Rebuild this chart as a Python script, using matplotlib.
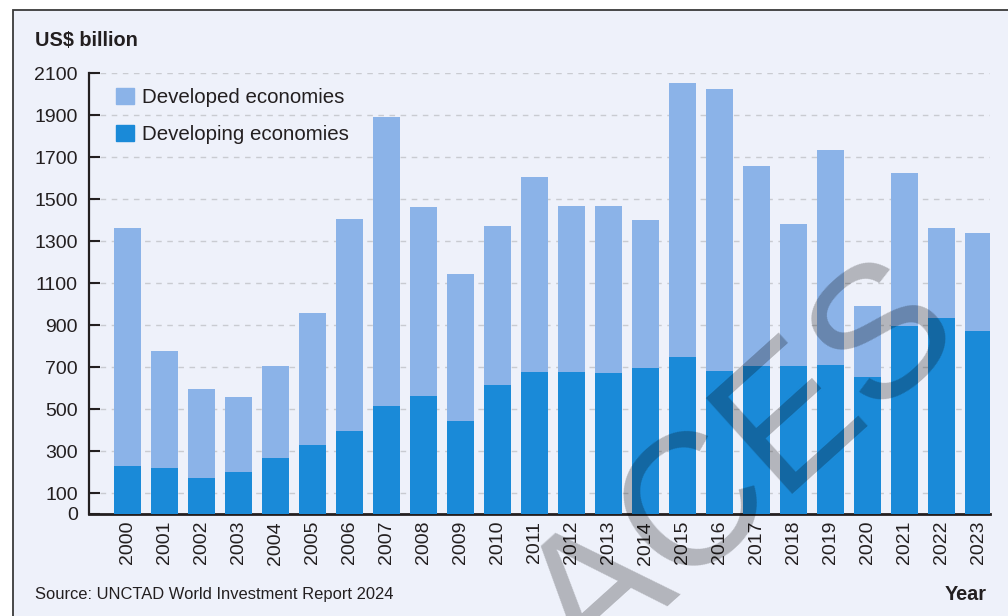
import numpy as np
import matplotlib
matplotlib.use("Agg")
import matplotlib.pyplot as plt
from matplotlib.patches import Rectangle, Patch

plt.rcParams['font.family'] = ['Liberation Sans', 'DejaVu Sans']

years = [str(y) for y in range(2000, 2024)]
total = [1362, 776, 595, 557, 705, 957, 1405, 1890, 1460, 1143,
         1371, 1605, 1465, 1465, 1400, 2052, 2024, 1657, 1381, 1733,
         990, 1624, 1362, 1338]
developing = [229, 219, 171, 200, 267, 329, 395, 514, 563, 443,
              614, 676, 676, 671, 695, 748, 681, 705, 705, 710,
              652, 895, 933, 871]
developed = [t - d for t, d in zip(total, developing)]
yticks = [0, 100, 300, 500, 700, 900, 1100, 1300, 1500, 1700, 1900, 2100]

c_dev = '#8bb3e8'
c_ing = '#1a8ad8'
ink = '#231f20'

fig = plt.figure(figsize=(10.08, 6.16), dpi=100)
fig.patch.set_facecolor('white')

# framed panel background
frame = Rectangle((13 / 1008, -0.05), 1.05, (616 - 10) / 616 + 0.05,
                  transform=fig.transFigure, facecolor='#eef1fa',
                  edgecolor='#3a3a3a', linewidth=1.3, zorder=-5)
fig.patches.append(frame)

ax = fig.add_axes([89 / 1008, 102 / 616, 901 / 1008, 441 / 616])
ax.set_facecolor('none')

x = np.arange(len(years))
ax.bar(x, developing, width=0.73, color=c_ing, zorder=3)
ax.bar(x, developed, width=0.73, bottom=developing, color=c_dev, zorder=3)

ax.set_xlim(-1.04, len(years) - 1 + 0.31)
ax.set_ylim(0, 2100)
ax.set_yticks(yticks)
ax.set_xticks(x)
ax.set_xticklabels(years, rotation=90, fontsize=14, color=ink)
ax.tick_params(axis='y', direction='in', length=8, width=1.5, color=ink,
               labelsize=14, labelcolor=ink, pad=8)
ax.tick_params(axis='x', length=0, pad=5)

ax.yaxis.grid(True, linestyle=(0, (4, 4)), color='#c9cbd1', linewidth=1, zorder=1)
ax.set_axisbelow(True)
for s in ['top', 'right']:
    ax.spines[s].set_visible(False)
ax.spines['left'].set_linewidth(1.6)
ax.spines['left'].set_color(ink)
ax.spines['bottom'].set_linewidth(2)
ax.spines['bottom'].set_color(ink)

handles = [Patch(color=c_dev, label='Developed economies'),
           Patch(color=c_ing, label='Developing economies')]
ax.legend(handles=handles, loc='upper left', bbox_to_anchor=(0.0095, 1.008),
          frameon=False, fontsize=14.8, handlelength=0.86, handleheight=0.86,
          handletextpad=0.4, labelspacing=0.85, labelcolor=ink)

fig.text(35 / 1008, 1 - 40 / 616, 'US$ billion', fontsize=14.3, fontweight='bold',
         color=ink, ha='left', va='center')
fig.text(35 / 1008, 1 - 594 / 616, 'Source: UNCTAD World Investment Report 2024',
         fontsize=11.9, color=ink, ha='left', va='center')
fig.text(987 / 1008, 1 - 594 / 616, 'Year', fontsize=14.3, fontweight='bold',
         color=ink, ha='right', va='center')

# watermark
fig.text(778 / 1008, 1 - 507 / 616, 'ACES', fontsize=135, color='black',
         alpha=0.25, rotation=42, rotation_mode='anchor',
         ha='center', va='baseline', zorder=10)

fig.savefig('out.png', dpi=100)
